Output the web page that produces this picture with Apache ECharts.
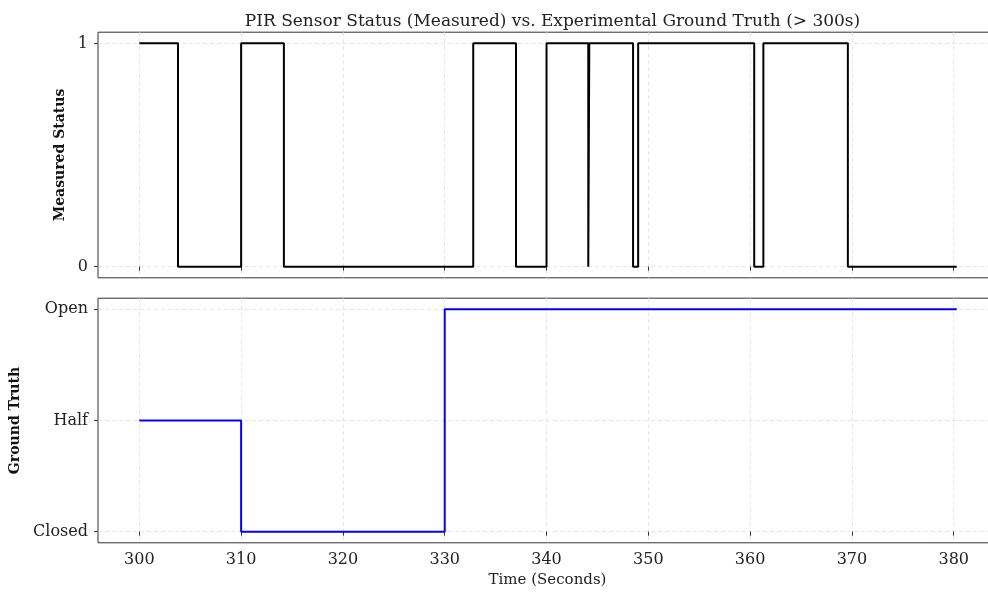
<!DOCTYPE html>
<html>
<head>
<meta charset="utf-8">
<script src="https://cdn.jsdelivr.net/npm/echarts@6/dist/echarts.min.js"></script>
<style>html,body{margin:0;padding:0;background:#fff;overflow:hidden;}#c{width:1000px;height:592px;}</style>
</head>
<body>
<div id="c"></div>
<script>
// Measured PIR status: transition times (s) and state after each time
const measuredTimes = [300, 303.8, 310.0, 314.2, 332.8, 337.0, 340.0, 344.1, 344.2, 348.5, 349.0, 360.4, 361.3, 369.6, 380.3];
const measuredStates = [1, 0, 1, 0, 1, 0, 1, 0, 1, 0, 1, 0, 1, 0, 0];
// Ground truth: 0 = Closed, 1 = Half, 2 = Open
const truthTimes = [300, 310, 330, 380.3];
const truthStates = [1, 0, 2, 2];
const truthLabels = ['Closed', 'Half', 'Open'];
const xTicks = [300, 310, 320, 330, 340, 350, 360, 370, 380];
const measuredTicks = [0, 1];
const truthTicks = [0, 1, 2];

const FONT = 'DejaVu Serif';
const chart = echarts.init(document.getElementById('c'), null, {renderer: 'canvas'});
const measuredData = measuredTimes.map((t, i) => [t, measuredStates[i]]);
const truthData = truthTimes.map((t, i) => [t, truthStates[i]]);

const gridLine = {show: true, lineStyle: {color: '#dedede', type: [4, 3], width: 0.8}};
function xAxis(gridIndex, showLabels, name) {
  return {
    type: 'value', gridIndex, min: 295.94, max: 384.25,
    axisLine: {show: false},
    axisTick: {show: true, length: 4, inside: false, customValues: xTicks, lineStyle: {color: '#333', width: 1}},
    axisLabel: {show: showLabels, customValues: xTicks, margin: 9, color: '#222', fontFamily: FONT, fontSize: 16},
    splitLine: gridLine,
    name: name || '', nameLocation: 'middle', nameGap: 30,
    nameTextStyle: {fontFamily: FONT, fontSize: 15, color: '#222'}
  };
}
chart.setOption({
  animation: false,
  title: {
    text: 'PIR Sensor Status (Measured) vs. Experimental Ground Truth (> 300s)',
    left: 547.5, top: 8, textAlign: 'center',
    textStyle: {fontFamily: FONT, fontSize: 17, fontWeight: 'normal', color: '#222'}
  },
  grid: [
    {left: 98, top: 32.2, width: 899, height: 245.6, show: true, borderColor: '#333', borderWidth: 1, backgroundColor: 'transparent'},
    {left: 98, top: 298.2, width: 899, height: 244.6, show: true, borderColor: '#333', borderWidth: 1, backgroundColor: 'transparent'}
  ],
  xAxis: [xAxis(0, false), xAxis(1, true, 'Time (Seconds)')],
  yAxis: [
    {
      type: 'value', gridIndex: 0, min: -0.05, max: 1.05,
      axisLine: {show: false},
      axisTick: {show: true, length: 4, customValues: measuredTicks, lineStyle: {color: '#333'}},
      axisLabel: {customValues: measuredTicks, margin: 10, color: '#222', fontFamily: FONT, fontSize: 16},
      splitLine: gridLine,
      name: 'Measured Status', nameLocation: 'middle', nameGap: 26.7,
      nameTextStyle: {fontFamily: FONT, fontSize: 14, fontWeight: 'bold', color: '#111'}
    },
    {
      type: 'value', gridIndex: 1, min: -0.1, max: 2.1,
      axisLine: {show: false},
      axisTick: {show: true, length: 4, customValues: truthTicks, lineStyle: {color: '#333'}},
      axisLabel: {customValues: truthTicks, margin: 10, color: '#222', fontFamily: FONT, fontSize: 16,
        formatter: v => truthLabels[Math.round(v)]},
      splitLine: gridLine,
      name: 'Ground Truth', nameLocation: 'middle', nameGap: 73.3,
      nameTextStyle: {fontFamily: FONT, fontSize: 14, fontWeight: 'bold', color: '#111'}
    }
  ],
  series: [
    {type: 'line', xAxisIndex: 0, yAxisIndex: 0, step: 'end', data: measuredData, showSymbol: false,
      lineStyle: {color: '#000', width: 2}},
    {type: 'line', xAxisIndex: 1, yAxisIndex: 1, step: 'end', data: truthData, showSymbol: false,
      lineStyle: {color: '#0000ff', width: 2}}
  ]
});
</script>
</body>
</html>
